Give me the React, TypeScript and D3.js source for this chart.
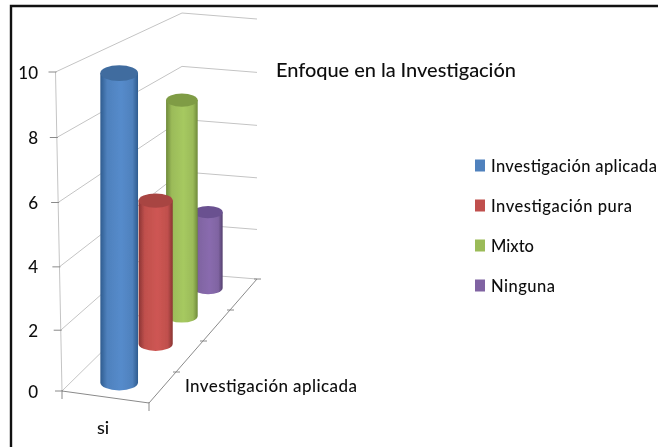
import React from 'react';
import * as d3 from 'd3';

const title = 'Enfoque en la Investigación';
const seriesNames = ['Investigación aplicada', 'Investigación pura', 'Mixto', 'Ninguna'];
const seriesValues = [10, 5, 8, 3];
const valueTicks = [0, 2, 4, 6, 8, 10];
const categoryLabel = 'si';
const depthLabel = 'Investigación aplicada';

const colors = ['#4f81bd', '#c0504d', '#9bbb59', '#8064a2'];
const darkColors = ['#2f5c8f', '#8a3533', '#6f8a3a', '#54406f'];
const topColors = ['#3f6c9f', '#a84543', '#7f9c45', '#6a5190'];
const legendWidths = [166, 141, 43, 64];

const font = 'Lato, "Open Sans", sans-serif';

// floor corners of the 3d box
const frontLeft = [62, 391];
const frontRight = [149, 403];
const backRight = [257, 279];
const backLeft = [182, 273];

const lerp = (a: number[], b: number[], t: number) => [a[0] + (b[0] - a[0]) * t, a[1] + (b[1] - a[1]) * t];

// pixels per value unit shrink towards the back of the box
const unitScale = d3.scaleLinear().domain([0, 1]).range([31.9, 26]);
const barUnitScale = d3.scaleLinear().domain([0, 1]).range([31.8, 24.6]);
const radiusScale = d3.scaleLinear().domain([0, 1]).range([19.5, 14]);
const depthScale = d3.scaleOrdinal<string, number>().domain(seriesNames).range([0.12, 0.44, 0.67, 0.9]);

// the walls stretch slightly towards the top, perspective again
const wallScale = d3.scalePow().exponent(1.03).domain([0, 10]).range([0, 10]);

// the front axis leans a little to the left as it rises
const leanScale = d3.scaleLinear().domain([0, 1]).range([0.65, 0]);

const project = (u: number, depth: number, value: number) => {
  const [x, y] = lerp(lerp(frontLeft, frontRight, u), lerp(backLeft, backRight, u), depth);
  return [x - value * leanScale(depth), y - wallScale(value) * unitScale(depth)];
};

const line = d3.line();

function Cylinder({ name, value, index }: { name: string; value: number; index: number }) {
  const depth = depthScale(name);
  const r = radiusScale(depth);
  const ry = r * 0.42;
  const [cx, base] = project(0.5, depth, 0);
  const top = base - value * barUnitScale(depth);
  const body = `M${cx - r},${top} L${cx - r},${base} A${r},${ry} 0 0 0 ${cx + r},${base} L${cx + r},${top} Z`;
  return (
    <g>
      <path d={body} fill={`url(#grad${index})`} />
      <ellipse cx={cx} cy={top} rx={r} ry={ry} fill={topColors[index]} />
    </g>
  );
}

export default function App() {
  const gridColor = '#c4c4c4';
  const axisColor = '#8a8a8a';
  const order = seriesNames.map((_, i) => i).reverse();

  return (
    <svg width={658} height={447} style={{ position: 'fixed', left: 0, top: 0, background: '#fff' }}>
      <defs>
        <filter id="soft" x="-5%" y="-5%" width="110%" height="110%">
          <feGaussianBlur stdDeviation="0.45" />
        </filter>
        {colors.map((c, i) => (
          <linearGradient key={c} id={`grad${i}`} x1="0" x2="1" y1="0" y2="0">
            <stop offset="0" stopColor={darkColors[i]} />
            <stop offset="0.18" stopColor={c} />
            <stop offset="0.55" stopColor={d3.color(c)!.brighter(0.2).formatHex()} />
            <stop offset="0.85" stopColor={c} />
            <stop offset="1" stopColor={darkColors[i]} />
          </linearGradient>
        ))}
      </defs>

      {/* screenshot frame */}
      <path d="M11,447 L11,6 L658,6" fill="none" stroke="#111" strokeWidth={2.4} />

      <g filter="url(#soft)">
        {/* walls */}
        {valueTicks.map((v) => (
          <path
            key={v}
            d={line([project(0, 0, v), project(0, 1, v), project(1, 1, v)] as [number, number][])!}
            fill="none"
            stroke={gridColor}
            strokeWidth={1}
          />
        ))}
        <path d={line([project(0, 0, 0), project(0, 0, 10)] as [number, number][])!} stroke={gridColor} fill="none" />

        {/* floor edges and ticks */}
        <path d={line([frontLeft, frontRight, backRight] as [number, number][])!} stroke={axisColor} fill="none" />
        {valueTicks.map((v) => {
          const [x, y] = project(0, 0, v);
          return <path key={v} d={`M${x - 7},${y} L${x + 1},${y}`} stroke={axisColor} />;
        })}
        {[frontLeft, frontRight].map((p) => (
          <path key={p[0]} d={`M${p[0]},${p[1] - 1} L${p[0]},${p[1] + 8}`} stroke={axisColor} />
        ))}
        {[0.25, 0.5, 0.75, 1].map((t) => {
          const [x, y] = lerp(frontRight, backRight, t);
          return <path key={t} d={`M${x - 3},${y} L${x + 4},${y}`} stroke={axisColor} />;
        })}

        {/* back to front so nearer cylinders cover the others */}
        {order.map((i) => (
          <Cylinder key={i} name={seriesNames[i]} value={seriesValues[i]} index={i} />
        ))}
      </g>

      <g fontFamily={font} fill="#111" fontWeight={500} filter="url(#soft)">
        {valueTicks.map((v) => (
          <text key={v} x={38} y={project(0, 0, v)[1] + 6.5} textAnchor="end" fontSize={17}>
            {v}
          </text>
        ))}
        <text x={276} y={77} fontSize={20} textLength={240}>
          {title}
        </text>
        <text x={97} y={434} fontSize={18}>
          {categoryLabel}
        </text>
        <text x={185} y={392} fontSize={17} textLength={172}>
          {depthLabel}
        </text>
        {seriesNames.map((name, i) => {
          const rowY = 165.5 + i * 40;
          return (
            <g key={name}>
              <rect x={475} y={rowY - 6} width={10} height={12} fill={colors[i]} />
              <text x={491} y={rowY + 6} fontSize={16.5} textLength={legendWidths[i]}>
                {name}
              </text>
            </g>
          );
        })}
      </g>
    </svg>
  );
}
